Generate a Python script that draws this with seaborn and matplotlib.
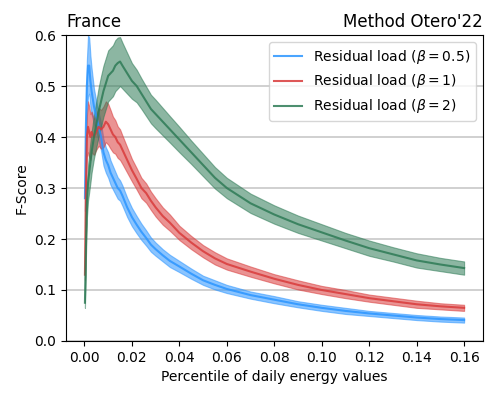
import numpy as np
import pandas as pd
import matplotlib
matplotlib.use("Agg")
import matplotlib.pyplot as plt
import seaborn as sns

# percentiles (x)
pct = [0.0002, 0.0006, 0.001, 0.0015, 0.002, 0.0025, 0.003, 0.004, 0.005, 0.006,
       0.007, 0.008, 0.009, 0.010, 0.011, 0.012, 0.013, 0.014, 0.015, 0.016,
       0.018, 0.020, 0.022, 0.024, 0.026, 0.028, 0.030, 0.033, 0.036, 0.040,
       0.045, 0.050, 0.055, 0.060, 0.070, 0.080, 0.090, 0.100, 0.110, 0.120,
       0.130, 0.140, 0.150, 0.160]

# mean F-score per beta
f_b05 = [0.28, 0.42, 0.50, 0.54, 0.54, 0.51, 0.49, 0.46, 0.44, 0.42,
         0.40, 0.37, 0.355, 0.345, 0.33, 0.32, 0.31, 0.30, 0.295, 0.285,
         0.262, 0.243, 0.228, 0.214, 0.202, 0.189, 0.180, 0.168, 0.157, 0.146,
         0.132, 0.119, 0.110, 0.102, 0.090, 0.081, 0.072, 0.065, 0.059, 0.054,
         0.050, 0.046, 0.043, 0.041]
f_b1 = [0.13, 0.30, 0.40, 0.42, 0.41, 0.40, 0.41, 0.40, 0.41, 0.42,
        0.415, 0.42, 0.43, 0.425, 0.415, 0.405, 0.40, 0.39, 0.385, 0.375,
        0.355, 0.335, 0.318, 0.30, 0.29, 0.275, 0.262, 0.245, 0.232, 0.212,
        0.193, 0.176, 0.162, 0.151, 0.136, 0.122, 0.110, 0.100, 0.092, 0.084,
        0.078, 0.072, 0.068, 0.065]
f_b2 = [0.075, 0.18, 0.27, 0.31, 0.33, 0.35, 0.37, 0.40, 0.425, 0.45,
        0.47, 0.49, 0.505, 0.52, 0.525, 0.53, 0.54, 0.545, 0.548, 0.54,
        0.525, 0.51, 0.50, 0.485, 0.47, 0.455, 0.445, 0.43, 0.415, 0.395,
        0.37, 0.345, 0.32, 0.30, 0.27, 0.248, 0.229, 0.213, 0.197, 0.182,
        0.170, 0.158, 0.150, 0.143]

# half width of the shaded band
w_b05 = [0.025, 0.04, 0.05, 0.06, 0.055, 0.05, 0.045, 0.035, 0.03, 0.028,
         0.027, 0.026, 0.025, 0.025, 0.024, 0.023, 0.022, 0.021, 0.02, 0.02,
         0.019, 0.018, 0.017, 0.016, 0.015, 0.014, 0.013, 0.012, 0.012, 0.011,
         0.010, 0.009, 0.009, 0.008, 0.007, 0.007, 0.006, 0.006, 0.006, 0.005,
         0.005, 0.005, 0.005, 0.005]
w_b1 = [0.01, 0.03, 0.04, 0.05, 0.05, 0.045, 0.04, 0.035, 0.035, 0.037,
        0.038, 0.04, 0.04, 0.04, 0.038, 0.035, 0.033, 0.031, 0.03, 0.028,
        0.025, 0.022, 0.021, 0.02, 0.019, 0.018, 0.018, 0.017, 0.016, 0.014,
        0.013, 0.012, 0.012, 0.011, 0.010, 0.009, 0.009, 0.008, 0.008, 0.007,
        0.007, 0.007, 0.006, 0.006]
w_b2 = [0.01, 0.02, 0.03, 0.035, 0.038, 0.04, 0.04, 0.042, 0.045, 0.048,
        0.05, 0.05, 0.05, 0.05, 0.05, 0.05, 0.05, 0.05, 0.048, 0.045,
        0.04, 0.035, 0.032, 0.03, 0.029, 0.028, 0.028, 0.027, 0.026, 0.025,
        0.023, 0.022, 0.021, 0.02, 0.019, 0.018, 0.017, 0.016, 0.015, 0.015,
        0.014, 0.014, 0.013, 0.013]

labels = [r"Residual load ($\beta = 0.5$)", r"Residual load ($\beta = 1$)", r"Residual load ($\beta = 2$)"]
colors = ["#2b95ff", "#d93b3b", "#2e7b56"]

series = [(f_b05, w_b05), (f_b1, w_b1), (f_b2, w_b2)]
df = pd.concat([pd.DataFrame({"pct": pct, "f": f, "w": w, "serie": lab})
                for (f, w), lab in zip(series, labels)], ignore_index=True)

fig = plt.figure(figsize=(4.98, 3.99), dpi=100)
ax = fig.add_axes([0.1325, 0.1454, 0.8375, 0.7668])

for lab, col in zip(labels, colors):
    d = df[df["serie"] == lab]
    ax.fill_between(d["pct"], d["f"] - d["w"], d["f"] + d["w"], color=col, alpha=0.55, lw=0.8)

sns.lineplot(data=df, x="pct", y="f", hue="serie", palette=colors, ax=ax, lw=1.5, alpha=0.85)

ax.set_ylim(0, 0.6)
ax.set_xticks(np.arange(0, 0.161, 0.02))
ax.set_xticklabels([f"{v:.2f}" for v in np.arange(0, 0.161, 0.02)])
ax.yaxis.grid(True, color="#c8c8c8", lw=1.2)
ax.set_axisbelow(True)
ax.set_xlabel("Percentile of daily energy values")
ax.set_ylabel("F-Score")
ax.set_title("France", loc="left", fontsize=12)
ax.set_title("Method Otero'22", loc="right", fontsize=12)
ax.legend(title=None, loc="upper right")

plt.savefig("out.png", dpi=100)
